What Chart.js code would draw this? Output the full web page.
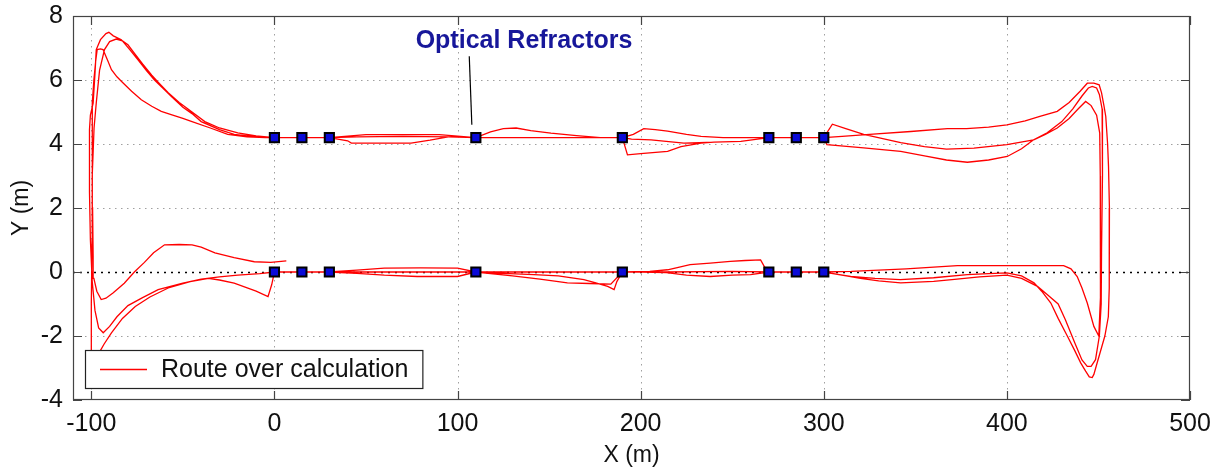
<!DOCTYPE html>
<html><head><meta charset="utf-8">
<script src="https://cdn.jsdelivr.net/npm/chart.js@4.4.1/dist/chart.umd.min.js"></script>
<style>html,body{margin:0;padding:0;background:#fff}canvas{display:block}</style>
</head><body>
<canvas id="c" width="1223" height="475"></canvas>
<script>
// ---- data ----
const seriesLabel = 'Route over calculation';
const annotationText = 'Optical Refractors';
const xTitle = 'X (m)';
const yTitle = 'Y (m)';
const xTicks = [-100, 0, 100, 200, 300, 400, 500];
const yTicks = [-4, -2, 0, 2, 4, 6, 8];

// lap 1 (starts at the lower-left loose end, lower line heads left, upper line heads right)
const lap1X = [6.5,-2,-11,-22,-32.5,-40,-45,-52,-60,-66,-71,-76.5,-82,-88,-92,-94.6,-97,-98.6,
  -99,-99.3,-99.5,-99.6,-99.3,-98.6,-97.6,-96.8,-95,-93.6,-91,-89,-86,-83.6,-78,-72.7,-67,-61.8,-56.4,-50,-45,-35,-25.5,-15,-5,
  0,15,30,45,70,95,110,118,125,132,140,151,165,178,190,196,201.7,208,214.7,225,233,245,255,270,285,300,
  310,325,347.5,367.5,378,390,400,410,418,427.5,434,440,443.9,447.5,450.4,451.7,453,454,455,455.5,456,456,455.8,455.4,453.5,451,449,447.5,446.6,
  445,443,440.3,437,433,428,424,419,414.8,408,400,390,378.4,360,341.8,328,314.7,305,300,
  285,270,268,265.5,257,249,238,227,220,214.7,205,190,187,185.5,182,175,169,155,141.7,125,110,100,80,60,45,30,15,0];
const lap1Y = [0.35,0.3,0.32,0.45,0.6,0.78,0.85,0.86,0.85,0.6,0.3,0,-0.35,-0.65,-0.82,-0.86,-0.6,-0.2,
  0.5,2,3.5,4.5,5.3,6,6.6,6.95,6.97,6.95,6.6,6.32,6.1,5.96,5.65,5.38,5.18,5.02,4.92,4.8,4.7,4.5,4.3,4.22,4.2,
  4.2,4.2,4.2,4.22,4.24,4.22,4.2,4.38,4.48,4.5,4.42,4.34,4.26,4.2,4.2,4.3,4.48,4.45,4.4,4.3,4.24,4.2,4.2,4.2,4.2,4.2,
  4.24,4.3,4.39,4.48,4.48,4.53,4.6,4.72,4.86,5.02,5.3,5.65,5.9,5.9,5.85,5.6,5.2,4.86,4,3.3,2,0.7,-0.5,-1.4,-2,-2.5,-2.9,-3.2,-3.3,
  -3.28,-3.1,-2.84,-2.45,-2,-1.45,-0.97,-0.6,-0.34,-0.12,-0.03,-0.05,-0.08,-0.18,-0.24,-0.2,-0.14,-0.05,0,
  0,0,0.12,0.38,0.36,0.33,0.28,0.23,0.14,0.07,0.02,0,-0.3,-0.55,-0.45,-0.33,-0.24,-0.12,-0.08,-0.04,0,0.12,0.13,0.12,0.06,0,0,0];

// lap 2
const lap2X = [-8,-20,-30,-40,-50,-63.5,-72,-80,-86,-90,-93.5,-96,-98,-99.5,
  -100.5,-101,-101,-100.5,-99,-98,-97.3,-95,-92,-90.4,-88,-83.6,-79,-74.5,-70,-65.5,-61,-56.4,-50,-45,-40,-30,-22,-10,0,
  15,30,40,42,60,74.6,85,96.4,110,130,160,190,192.8,200,214.7,222,233,240,254.7,270,285,300,
  304.7,312,321.8,342,355,367,382,400,414.6,422,430,436,441,444.5,446.6,449,450.5,452,452.4,452,451.7,451.5,450.5,448.4,446,443.9,
  441,437,432,428,422,416.7,408,400,385,370,360,342,330,320,310,300,
  285,270,260,250,238,225,214,200,190,183.7,172,160,145,130,110,100,78,60,45,30,15,0];
const lap2Y = [-0.05,-0.1,-0.15,-0.22,-0.35,-0.55,-0.8,-1.05,-1.4,-1.7,-1.9,-1.75,-1.2,-0.3,
  1,2.5,4.45,4.9,5.28,6.2,6.95,7.26,7.45,7.49,7.38,7.26,6.95,6.63,6.3,6.0,5.75,5.49,5.15,4.95,4.7,4.45,4.3,4.22,4.2,
  4.2,4.2,4.1,4.03,4.03,4.03,4.12,4.24,4.2,4.2,4.2,4.2,3.66,3.7,3.77,3.92,4.03,4.06,4.08,4.2,4.2,4.2,
  4.62,4.48,4.3,4.04,3.92,3.84,3.87,3.98,4.13,4.35,4.7,5.1,5.5,5.75,5.8,5.75,5.55,5.1,4.5,3,0.7,-1,-2,-2.74,-2.95,-2.95,
  -2.75,-2.2,-1.5,-1.0,-0.7,-0.45,-0.2,-0.1,-0.15,-0.24,-0.29,-0.34,-0.28,-0.2,-0.1,0,
  0,0,-0.08,-0.1,-0.14,-0.1,-0.02,0,0,-0.38,-0.36,-0.34,-0.22,-0.12,0,-0.14,-0.14,-0.1,-0.04,0,0,0];

// lap 3
const lap3X = [-1.5,-3.5,-10,-22,-30,-36,-46,-58,-68,-76,-83,-89,-93,-96,-98.5,-100,
  -100,-99.6,-99.5,-98.5,-97.3,-95.5,-92.8,-90,-86.4,-83,-80,-76,-72,-67,-63,-58,-52,-45,-38,-30,-20,-10,0,
  15,30,50,90,110,150,190,195,205.7,223.6,240,254.7,270,285,300,
  301.7,321.8,342,355,367,378.4,390,400.2,408,414.6,421,427.5,434,439,443,446,449,450.7,451,451.2,451,450.2,
  447.5,443.9,441,438.4,435,431,400,373,360,345,330,315,300,
  285,270,250,214.7,190,150,110,70,30,15,0];
const lap3Y = [-0.4,-0.77,-0.6,-0.35,-0.25,-0.2,-0.3,-0.5,-0.78,-1.08,-1.45,-1.9,-2.25,-2.55,-2.8,-2.7,
  -1,1,3,4.5,5.28,6.3,6.95,7.2,7.28,7.22,7.1,6.8,6.5,6.15,5.9,5.6,5.3,5.0,4.7,4.5,4.35,4.25,4.2,
  4.2,4.2,4.29,4.29,4.2,4.2,4.2,4.15,4.13,4.03,4.06,4.08,4.2,4.2,4.2,
  3.98,3.88,3.77,3.63,3.5,3.43,3.5,3.61,3.85,4.13,4.3,4.5,4.8,5.1,5.33,5.2,4.9,4.34,3,0.7,-0.8,-2.0,
  -1.7,-0.97,-0.5,-0.14,0.1,0.2,0.2,0.2,0.15,0.1,0.06,0.02,0,
  0,0,0.02,0,0,0,0,0,0,0,0];

// optical refractor positions
const refractorX = [0, 15, 30, 110, 190, 270, 285, 300];
const refractorRows = [4.2, 0];

// annotation anchor (data units)
const annotationPos = {x: 136.3, y: 7.23};
const pointerFrom = {x: 106.4, y: 6.74};
const pointerTo = {x: 107.8, y: 4.6};

// ---- build ----
const zip = (xs, ys) => xs.map((v, i) => ({x: v, y: ys[i]}));
const route = [...zip(lap1X, lap1Y), ...zip(lap2X, lap2Y), ...zip(lap3X, lap3Y)];
const refractors = [];
refractorRows.forEach(r => refractorX.forEach(v => refractors.push({x: v, y: r})));

const FONT = '"Liberation Sans", Arial, sans-serif';

const decor = {
  id: 'decor',
  beforeDraw(chart) {
    const c = chart.ctx; c.save(); c.fillStyle = '#fff'; c.fillRect(0, 0, chart.width, chart.height); c.restore();
  },
  beforeDatasetsDraw(chart) {
    const {ctx, chartArea: a, scales: {x, y}} = chart;
    ctx.save();
    ctx.lineWidth = 1;
    ctx.setLineDash([1.5, 4.5]);
    ctx.strokeStyle = '#a0a0a0';
    xTicks.forEach(v => {
      const px = Math.round(x.getPixelForValue(v)) + 0.5;
      if (px <= a.left + 1 || px >= a.right - 1) return;
      ctx.beginPath(); ctx.moveTo(px, a.top); ctx.lineTo(px, a.bottom); ctx.stroke();
    });
    yTicks.forEach(v => {
      const py = Math.round(y.getPixelForValue(v)) + 0.5;
      if (py <= a.top + 1 || py >= a.bottom - 1) return;
      ctx.strokeStyle = v === 0 ? '#000' : '#a0a0a0';
      ctx.lineWidth = v === 0 ? 1.6 : 1;
      ctx.setLineDash(v === 0 ? [2, 5] : [1.5, 4.5]);
      ctx.beginPath(); ctx.moveTo(a.left, py); ctx.lineTo(a.right, py); ctx.stroke();
    });
    ctx.restore();
  },
  afterDraw(chart) {
    const {ctx, chartArea: a, scales: {x, y}} = chart;
    ctx.save();
    // frame
    ctx.strokeStyle = '#444'; ctx.lineWidth = 1.2; ctx.setLineDash([]);
    ctx.strokeRect(a.left + 0.5, a.top + 0.5, a.right - a.left - 1, a.bottom - a.top - 1);
    // inward ticks
    const L = 9;
    ctx.beginPath();
    xTicks.forEach(v => {
      const px = Math.round(x.getPixelForValue(v)) + 0.5;
      ctx.moveTo(px, a.bottom); ctx.lineTo(px, a.bottom - L);
      ctx.moveTo(px, a.top); ctx.lineTo(px, a.top + L);
    });
    yTicks.forEach(v => {
      const py = Math.round(y.getPixelForValue(v)) + 0.5;
      ctx.moveTo(a.left, py); ctx.lineTo(a.left + L, py);
      ctx.moveTo(a.right, py); ctx.lineTo(a.right - L, py);
    });
    ctx.stroke();

    // annotation
    ctx.strokeStyle = '#000'; ctx.lineWidth = 1.2;
    ctx.beginPath();
    ctx.moveTo(x.getPixelForValue(pointerFrom.x), y.getPixelForValue(pointerFrom.y));
    ctx.lineTo(x.getPixelForValue(pointerTo.x), y.getPixelForValue(pointerTo.y));
    ctx.stroke();
    ctx.fillStyle = '#17179a';
    ctx.font = 'bold 25px ' + FONT;
    ctx.textAlign = 'center'; ctx.textBaseline = 'middle';
    ctx.fillText(annotationText, x.getPixelForValue(annotationPos.x), y.getPixelForValue(annotationPos.y));

    // legend box (bottom-left inside axes)
    ctx.font = '25px ' + FONT;
    const tw = ctx.measureText(seriesLabel).width;
    const bx = a.left + 12, bh = 38, by = a.bottom - 12 - bh;
    const bw = 76 + tw + 14;
    ctx.fillStyle = '#fff';
    ctx.fillRect(bx, by, bw, bh);
    ctx.strokeStyle = '#222'; ctx.lineWidth = 1.2;
    ctx.strokeRect(bx + 0.5, by + 0.5, bw, bh);
    ctx.strokeStyle = '#ff0000'; ctx.lineWidth = 1.3;
    ctx.beginPath(); ctx.moveTo(bx + 15, by + bh / 2 + 0.5); ctx.lineTo(bx + 62, by + bh / 2 + 0.5); ctx.stroke();
    ctx.fillStyle = '#111'; ctx.textAlign = 'left'; ctx.textBaseline = 'middle';
    ctx.fillText(seriesLabel, bx + 76, by + bh / 2 + 1);
    ctx.restore();
  }
};

new Chart(document.getElementById('c'), {
  type: 'scatter',
  data: {
    datasets: [
      {
        label: 'Optical refractors',
        data: refractors,
        showLine: false,
        pointStyle: 'rect',
        pointRadius: 6.5,
        pointHoverRadius: 6.5,
        backgroundColor: '#0a0ad8',
        borderColor: '#000',
        borderWidth: 2
      },
      {
        label: seriesLabel,
        data: route,
        showLine: true,
        borderColor: '#ff0000',
        backgroundColor: '#ff0000',
        borderWidth: 1.3,
        pointRadius: 0,
        tension: 0,
        fill: false
      }
    ]
  },
  options: {
    responsive: false,
    animation: false,
    devicePixelRatio: 1,
    layout: {padding: {top: 16, right: 33, left: 0, bottom: 0}},
    plugins: {legend: {display: false}, tooltip: {enabled: false}},
    scales: {
      x: {
        type: 'linear', min: -110, max: 500,
        afterBuildTicks: s => { s.ticks = xTicks.map(v => ({value: v})); },
        afterFit: s => { s.height = 75; },
        grid: {display: false, drawTicks: false},
        border: {display: false},
        ticks: {autoSkip: false, maxRotation: 0, minRotation: 0, padding: 9, color: '#111', font: {family: FONT, size: 25}},
        title: {display: true, text: xTitle, color: '#111', font: {family: FONT, size: 23}, padding: {top: 0, bottom: 6}}
      },
      y: {
        type: 'linear', min: -4, max: 8,
        afterBuildTicks: s => { s.ticks = yTicks.map(v => ({value: v})); },
        afterFit: s => { s.width = 73; s.paddingTop = 0; s.paddingBottom = 0; },
        grid: {display: false, drawTicks: false},
        border: {display: false},
        ticks: {padding: 10, color: '#111', font: {family: FONT, size: 25, lineHeight: 0.4}},
        title: {display: true, text: yTitle, color: '#111', font: {family: FONT, size: 23}, padding: {top: 8, bottom: 0}}
      }
    }
  },
  plugins: [decor]
});
</script>
</body></html>
